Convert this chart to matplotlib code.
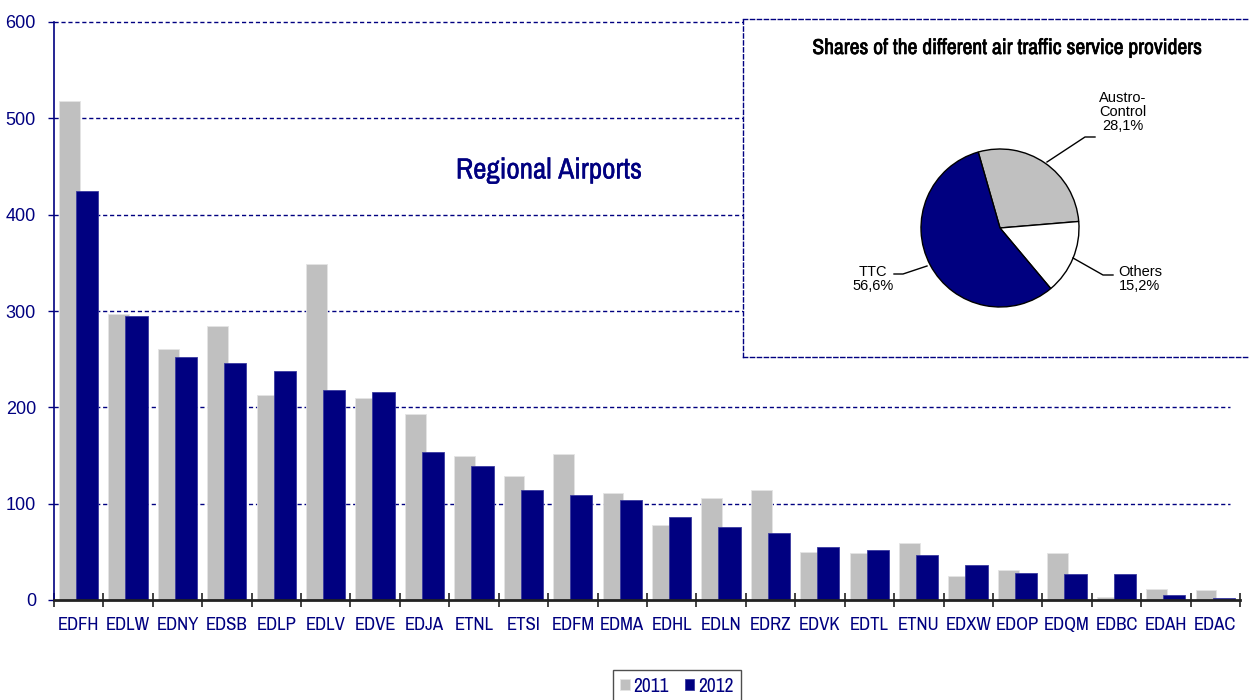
import matplotlib
matplotlib.use("Agg")
import matplotlib.pyplot as plt
from matplotlib import font_manager as fm
import matplotlib.patheffects as pe
import numpy as np

categories = ["EDFH", "EDLW", "EDNY", "EDSB", "EDLP", "EDLV", "EDVE", "EDJA", "ETNL", "ETSI",
              "EDFM", "EDMA", "EDHL", "EDLN", "EDRZ", "EDVK", "EDTL", "ETNU", "EDXW", "EDOP",
              "EDQM", "EDBC", "EDAH", "EDAC"]
values_2011 = [518, 297, 261, 284, 213, 349, 210, 193, 150, 129,
               152, 111, 78, 106, 114, 50, 49, 59, 25, 31,
               49, 3, 11, 10]
values_2012 = [425, 295, 252, 246, 238, 218, 216, 154, 139, 114,
               109, 104, 86, 76, 70, 55, 52, 47, 36, 28,
               27, 27, 5, 2]
y_ticks = [0, 100, 200, 300, 400, 500, 600]

pie_labels = ["Austro-\nControl\n28,1%", "Others\n15,2%", "TTC\n56,6%"]
pie_values = [28.1, 15.2, 56.6]

NAVY = "#000080"
GRAY = "#C0C0C0"

# find a condensed font if one is installed
cond = None
for f in fm.fontManager.ttflist:
    if "Narrow" in f.name or "Condensed" in f.name:
        cond = dict(family=f.name, stretch="normal")
        break
if cond is None:
    for f in fm.fontManager.ttflist:
        if f.name == "DejaVu Sans" and f.stretch in ("condensed", "semi-condensed", 600, 700) \
                and f.weight in ("normal", 400, "book", "regular"):
            cond = dict(family="DejaVu Sans", stretch="condensed")
            break
if cond is None:
    cond = dict(family="Liberation Sans", stretch="normal")

W, H = 1249, 700
fig = plt.figure(figsize=(W / 100, H / 100), dpi=100)

def fbox(x0, y0, x1, y1):
    return [x0 / W, 1 - y1 / H, (x1 - x0) / W, (y1 - y0) / H]

ax = fig.add_axes(fbox(54, 22, 1240, 600))
x = np.arange(len(categories))
ax.bar(x - 0.19, values_2011, width=0.42, color=GRAY, edgecolor="#E4E4E4", linewidth=0.6,
       label="2011", zorder=3)
ax.bar(x + 0.17, values_2012, width=0.45, color=NAVY, edgecolor="#3A3AA0", linewidth=0.6,
       label="2012", zorder=4)

ax.set_xlim(-0.5, len(categories) - 0.5)
ax.set_ylim(0, 600)
ax.set_yticks(y_ticks)
ax.set_yticklabels([str(v) for v in y_ticks])
for v in y_ticks[1:]:
    ax.plot([-0.5, len(categories) - 0.7], [v, v], color=NAVY, lw=1.0,
            ls=(0, (3, 2)), zorder=1, clip_on=False)

ax.set_xticks(x)
ax.set_xticklabels(categories)
ax.set_xticks(np.arange(-0.5, len(categories), 1.0), minor=True)
ax.tick_params(axis="x", which="major", length=0, pad=12, labelcolor=NAVY)
ax.tick_params(axis="x", which="minor", direction="inout", length=10, width=1.2, color="#222222")
ax.tick_params(axis="y", which="major", direction="out", length=4, width=1, color=NAVY,
               labelcolor=NAVY, pad=9)
for lab in ax.get_xticklabels():
    lab.set_family(cond["family"])
    lab.set_stretch(cond["stretch"])
    lab.set_fontsize(13.5)
for lab in ax.get_yticklabels():
    lab.set_family(["Liberation Sans", "DejaVu Sans"])
    lab.set_fontsize(13)
for s in ["top", "right"]:
    ax.spines[s].set_visible(False)
ax.spines["left"].set_color(NAVY)
ax.spines["left"].set_linewidth(1.2)
ax.spines["bottom"].set_color("#222222")
ax.spines["bottom"].set_linewidth(2)
ax.spines["left"].set_zorder(5)
ax.spines["bottom"].set_zorder(5)

fig.text(549 / W, 1 - 170 / H, "Regional Airports", color=NAVY, fontsize=21,
         ha="center", va="center", family=cond["family"], stretch=cond["stretch"],
         path_effects=[pe.withStroke(linewidth=0.25, foreground=NAVY)])

# legend
handles, labels = ax.get_legend_handles_labels()
leg = fig.legend(handles, labels, loc="center", bbox_to_anchor=(677 / W, 1 - 686 / H),
                 ncol=2, frameon=True, fancybox=False, edgecolor="#222222",
                 handlelength=0.5, handleheight=0.5, handletextpad=0.2, columnspacing=0.8,
                 borderpad=0.35, prop={"family": cond["family"], "stretch": cond["stretch"],
                                       "size": 14})
leg.get_frame().set_linewidth(1.0)
for t in leg.get_texts():
    t.set_color(NAVY)

# inset with pie
bx0, by0, bx1, by1 = 743, 19, 1252, 357
pax = fig.add_axes(fbox(bx0, by0, bx1, by1))
pax.set_facecolor("white")
pax.set_zorder(10)
cx, cy, r = 1000, 228, 79
wedges, _ = pax.pie(pie_values, colors=[GRAY, "white", NAVY], startangle=106,
                    counterclock=False, frame=True,
                    wedgeprops={"edgecolor": "black", "linewidth": 1.0})
pax.set_aspect("auto")
pax.set_xlim((bx0 - cx) / r, (bx1 - cx) / r)
pax.set_ylim((cy - by1) / r, (cy - by0) / r)
pax.set_xticks([])
pax.set_yticks([])
for s in pax.spines.values():
    s.set_color(NAVY)
    s.set_linestyle((0, (3, 2)))
    s.set_linewidth(1.0)

def P(px, py):
    return ((px - cx) / r, (cy - py) / r)

lbl_font = ["Liberation Sans", "DejaVu Sans"]
for pts in [[(1047, 162), (1085, 137), (1095, 137)],
            [(1073, 258), (1103, 275), (1113, 275)],
            [(927, 266), (903, 274), (894, 274)]]:
    xs, ys = zip(*[P(*p) for p in pts])
    pax.plot(xs, ys, color="black", lw=1.0)

pax.text(*P(1123, 112), pie_labels[0], ha="center", va="center", fontsize=10.5,
         family=lbl_font, linespacing=1.0)
pax.text(*P(1140, 279), pie_labels[1], ha="center", va="center", fontsize=10.5,
         family=lbl_font, linespacing=1.0)
pax.text(*P(873, 279), pie_labels[2], ha="center", va="center", fontsize=10.5,
         family=lbl_font, linespacing=1.0)
pax.text(*P(1007, 48), "Shares of the different air traffic service providers",
         ha="center", va="center", fontsize=15.5, fontweight="bold",
         family=cond["family"], stretch=cond["stretch"],
         path_effects=[pe.withStroke(linewidth=0.5, foreground="black")])

fig.savefig("out.png", dpi=100)
